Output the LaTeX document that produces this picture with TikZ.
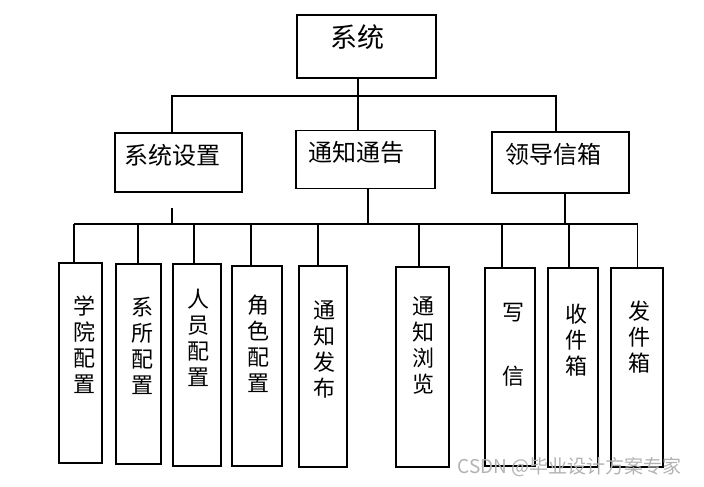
\documentclass[tikz,border=0pt]{standalone}
\usepackage{fontspec}
\newfontfamily\cjk{Noto Sans CJK SC}
\usetikzlibrary{positioning}

\begin{document}
\begin{tikzpicture}[x=1pt, y=-1pt, line width=1.3pt,
    frame/.style 2 args = {draw, minimum width=#1, minimum height=#2, inner sep=0pt},
    word/.style = {font=\cjk\fontsize{24}{26}\selectfont, inner sep=0pt},
    col/.style = {align=center, font=\cjk\fontsize{22}{26}\selectfont, inner sep=0pt}]
    \useasboundingbox (0,0) rectangle (704,487);
    % Nodes

    \node[frame={139pt}{63pt}] (sys) at (366.5,46.5) {};
    \node[word, font=\cjk\fontsize{27}{30}\selectfont] (sysT) at (357.5,37.5) {系统};

    \node[frame={127pt}{59pt}] (set) at (178.5,162.5) {};
    \node[word] (setT) at (172.5,155) {系统设置};
    \node[frame={139pt}{58pt}] (note) at (365.5,159.5) {};
    \node[word] (noteT) at (356,152) {通知通告};
    \node[frame={137pt}{61pt}] (mail) at (560.5,162.5) {};
    \node[word] (mailT) at (553,154) {领导信箱};

    \node[frame={43pt}{200pt}] (l1) at (80.5,363) {};
    \node[frame={45pt}{200pt}] (l2) at (138.5,364) {};
    \node[frame={48pt}{202pt}] (l3) at (197,365) {};
    \node[frame={50pt}{200pt}] (l4) at (257,366) {};
    \node[frame={48pt}{201pt}] (l5) at (323,366.5) {};
    \node[frame={53pt}{200pt}] (l6) at (422.5,367) {};
    \node[frame={50pt}{198pt}] (l7) at (510,367) {};
    \node[frame={50pt}{199pt}] (l8) at (573,367.5) {};
    \node[frame={52pt}{199pt}] (l9) at (637,367.5) {};

    \node[col] (l1T) at (84,345) {学\\院\\配\\置};
    \node[col] (l2T) at (142,346) {系\\所\\配\\置};
    \node[col] (l3T) at (198,338) {人\\员\\配\\置};
    \node[col] (l4T) at (258,344) {角\\色\\配\\置};
    \node[col] (l5T) at (324,350) {通\\知\\发\\布};
    \node[col] (l6T) at (423,346) {通\\知\\浏\\览};
    \node[col] (l7T) at (513,345) {写\\[38pt]信};
    \node[col] (l8T) at (576,340) {收\\件\\箱};
    \node[col] (l9T) at (639,337) {发\\件\\箱};

    % Edges
    \coordinate (j1) at (358,96);
    \coordinate (b1w) at (172,96);
    \coordinate (b1e) at (556,96);
    \draw (sys.south -| j1) -- (note.north -| j1);
    \draw (set.north -| b1w) -- (b1w) -- (b1e) -- (mail.north -| b1e);

    \coordinate (b2w) at (74,224);
    \coordinate (b2e) at (637.5,224);
    \coordinate (dn) at (368,224);
    \coordinate (dm) at (565,224);
    \draw (b2w) -- (b2e);
    \draw ([yshift=-15pt]set.south -| b1w) -- (b2w -| b1w);
    \draw (note.south -| dn) -- (dn);
    \draw (mail.south -| dm) -- (dm);
    \foreach \n/\x in {l1/74, l2/138, l3/194, l4/251, l5/318, l6/419, l7/502, l8/569, l9/637.5}
        \draw (\x,224) -- (\x,0 |- \n.north);

    % Watermark
    \node[font=\cjk\fontsize{19}{22}\selectfont, text=gray!60, anchor=west, inner sep=0pt] (mark) at (457,467) {CSDN @毕业设计方案专家};

\end{tikzpicture}
\end{document}
